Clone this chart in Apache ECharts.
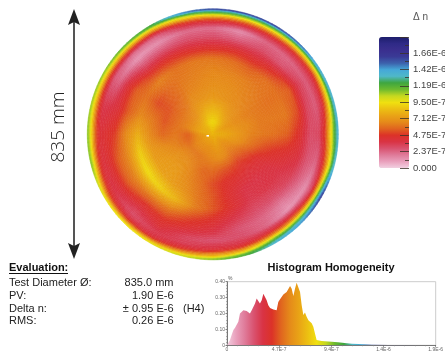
<!DOCTYPE html>
<html>
<head>
<meta charset="utf-8">
<style>html,body{margin:0;padding:0;background:#fff}#c{width:445px;height:353px}</style>
<script src="https://cdn.jsdelivr.net/npm/echarts@6/dist/echarts.min.js"></script>
</head>
<body>
<div id="c"></div>
<script>
// Colour scale, bottom (0) to top (1.9E-6), equal steps
var scaleColors = ['#f2cfe0','#e9a0bc','#df7a99','#d9526f','#d93344','#dc3228','#e0641f','#e58a1a','#e9a316','#ecc012','#f0e010','#c5d820','#6cba2f','#3fa63f','#4fb8c8','#45a8d8','#3c62ac','#3a3a96','#3a2f8e','#2f2a86','#1d1d6b'];
var scaleMax = 190; // in units of 1E-8
var scaleTickStep = 23.7;
var scaleTickLabels = ['0.000','2.37E-7','4.75E-7','7.12E-7','9.50E-7','1.19E-6','1.42E-6','1.66E-6'];

// Disk map: measured delta-n (units 1E-8) at relative radius / clockwise angle from north
var ringStops = [0,.1,.2,.3,.4,.5,.6,.7,.78,.85,.9,.93,.95,.97,.985,1];
var angleStops = [0,15,30,45,60,75,90,105,120,135,150,165,180,195,210,225,240,255,270,285,300,315,330,345];
var diskValues = [
 [82,92,82,72,68,66,62,44,30,22,42,62,92,118,132,165],
 [82,90,80,70,68,65,60,44,26,14,40,60,90,115,132,165],
 [82,84,74,68,66,64,56,42,30,24,40,60,88,115,132,165],
 [82,78,70,66,64,62,60,46,28,24,38,55,80,110,130,155],
 [82,74,68,64,62,60,60,56,36,26,36,50,75,105,128,140],
 [82,76,70,66,62,62,62,52,32,26,38,60,86,110,128,138],
 [82,78,72,65,62,60,56,44,30,32,52,82,100,120,128,138],
 [82,76,70,62,54,48,44,40,28,24,42,62,88,108,126,135],
 [82,72,64,54,44,40,38,34,24,14,32,60,95,125,145,165],
 [82,70,62,50,42,38,38,30,18,12,42,65,100,125,138,146],
 [82,72,66,52,44,38,36,30,24,24,42,62,95,118,130,138],
 [82,74,68,54,46,44,44,36,28,30,38,48,70,92,112,122],
 [82,72,66,58,52,54,54,44,38,28,38,44,62,80,100,114],
 [82,70,64,58,60,62,64,50,42,32,34,42,52,72,92,106],
 [82,70,62,64,66,70,82,60,48,42,36,38,42,60,82,102],
 [82,70,62,68,72,74,90,62,46,36,30,36,44,58,80,100],
 [82,70,62,68,72,74,94,66,55,42,38,42,48,62,82,102],
 [82,70,58,64,68,72,90,66,56,44,40,46,62,88,104,112],
 [82,72,56,62,58,66,80,66,50,44,42,52,68,92,104,112],
 [82,78,66,60,54,62,66,55,42,38,36,46,60,85,100,110],
 [82,78,66,60,54,52,60,56,42,24,26,42,58,85,102,112],
 [82,80,68,62,58,58,64,46,28,12,22,42,58,88,106,118],
 [82,84,74,68,64,62,60,46,28,14,24,42,62,92,112,125],
 [82,90,80,70,66,64,62,44,30,22,40,58,85,108,128,150]
];

// Histogram: bin position (units 1E-8) and share (%)
var histBins = [0,1.2,2.7,4.2,5.8,7.3,8.8,10.3,11.8,13.4,14.9,16.4,17.9,19.4,20.9,22.5,24,25.5,27,28.5,30,31.6,33.1,34.6,36.1,37.6,39.2,40.7,42.2,43.7,45.2,46.7,48.3,49.8,51.3,52.8,54.3,55.8,57.4,58.9,60.4,61.9,63.4,65,66.5,68,69.5,71,72.5,74.1,75.6,77.1,78.6,80.1,81.6,83.2,86.2,89.2,95.3,101,107,113.5,119.6,131.7,147,162,177,190];
var histShare = [0,.006,.033,.065,.096,.11,.121,.148,.2,.21,.221,.227,.215,.225,.2,.221,.231,.263,.294,.29,.263,.283,.325,.335,.283,.252,.235,.231,.225,.217,.221,.273,.29,.294,.319,.315,.335,.346,.373,.356,.31,.356,.394,.396,.335,.252,.19,.206,.179,.158,.148,.138,.117,.075,.033,.031,.027,.025,.023,.019,.015,.01,.008,.004,.002,.002,.001,0];
var histXLabels = ['0','4.7E-7','9.4E-7','1.4E-6','1.9E-6'];
var histYLabels = ['0','0.10','0.20','0.30','0.40'];

// Texts
var evalTitle = 'Evaluation:';
var evalNames = ['Test Diameter Ø:','PV:','Delta n:','RMS:'];
var evalValues = ['835.0 mm','1.90 E-6','± 0.95 E-6','0.26 E-6'];
var evalNote = '(H4)';
var histTitle = 'Histogram Homogeneity';
var diameterLabel = '835 mm';
var scaleTitle = 'Δ n';

var chart = echarts.init(document.getElementById('c'), null, {renderer:'canvas'});

var cells = [];
for (var j = 0; j < angleStops.length; j++) {
  for (var i = 0; i < ringStops.length - 1; i++) {
    cells.push([i, j, diskValues[j][i]]);
  }
}

function renderCell(params, api) {
  var i = api.value(0), j = api.value(1);
  var j2 = (j + 1) % angleStops.length;
  var r0 = ringStops[i], r1 = ringStops[i + 1];
  var a0 = angleStops[j];
  var nr = Math.ceil((r1 - r0) / 0.015), na = 8;
  var cx = params.coordSys.cx, cy = params.coordSys.cy;
  var children = [];
  for (var p = 0; p < nr; p++) {
    for (var q = 0; q < na; q++) {
      var fr = (p + .5) / nr, fa = (q + .5) / na;
      var v = (1 - fr) * ((1 - fa) * diskValues[j][i] + fa * diskValues[j2][i]) +
              fr * ((1 - fa) * diskValues[j][i + 1] + fa * diskValues[j2][i + 1]);
      var ra = r0 + (r1 - r0) * p / nr, rb = r0 + (r1 - r0) * (p + 1) / nr;
      var s = api.coord([r1, a0 + 15 * q / na]);
      var e = api.coord([r1, a0 + 15 * (q + 1) / na]);
      var inner = api.coord([ra, a0]), outer = api.coord([rb, a0]);
      var start = Math.atan2(s[1] - cy, s[0] - cx);
      var end = Math.atan2(e[1] - cy, e[0] - cx);
      if (end < start) end += Math.PI * 2;
      var col = echarts.color.lerp(v / scaleMax, scaleColors);
      children.push({
        type: 'sector',
        shape: {cx: cx, cy: cy,
          r0: Math.hypot(inner[0] - cx, inner[1] - cy),
          r: Math.hypot(outer[0] - cx, outer[1] - cy),
          startAngle: start, endAngle: end, clockwise: true},
        style: {fill: col, stroke: col, lineWidth: 0.6}
      });
    }
  }
  return {type: 'group', children: children, silent: true};
}

var SANS = '"Liberation Sans", Arial, sans-serif';
var graphics = [
  {type:'line', shape:{x1:74,y1:18,x2:74,y2:250}, style:{stroke:'#555',lineWidth:2}},
  {type:'polygon', shape:{points:[[74,9],[80,25],[74,22],[68,25]]}, style:{fill:'#222'}},
  {type:'polygon', shape:{points:[[74,259],[80,243],[74,246],[68,243]]}, style:{fill:'#222'}},
  {type:'text', x:59, y:127, rotation:Math.PI/2, style:{text:diameterLabel, fill:'#222', font:'300 19px "Open Sans", sans-serif', align:'center', verticalAlign:'middle'}},
  {type:'rect', shape:{x:206.5,y:135,width:2.5,height:1.6}, style:{fill:'#fff'}, z:20},
  {type:'text', x:413, y:17, style:{text:scaleTitle, fill:'#555', font:'10px '+SANS, verticalAlign:'middle'}},
  {type:'text', x:9, y:268, style:{text:evalTitle, fill:'#111', font:'bold 11px '+SANS, verticalAlign:'middle'}},
  {type:'line', shape:{x1:9,y1:273.5,x2:68,y2:273.5}, style:{stroke:'#111',lineWidth:1}},
  {type:'text', x:331, y:268, style:{text:histTitle, fill:'#111', font:'bold 11px '+SANS, align:'center', verticalAlign:'middle'}},
  {type:'text', x:228, y:278.5, style:{text:'%', fill:'#555', font:'5px '+SANS, verticalAlign:'middle'}},
  {type:'text', x:183, y:308.5, style:{text:evalNote, fill:'#222', font:'11px '+SANS, verticalAlign:'middle'}}
];
var rowY = [283, 296, 308.5, 321];
evalNames.forEach(function (t, k) {
  graphics.push({type:'text', x:9, y:rowY[k], style:{text:t, fill:'#222', font:'11px '+SANS, verticalAlign:'middle'}});
  graphics.push({type:'text', x:173.5, y:rowY[k], style:{text:evalValues[k], fill:'#222', font:'11px '+SANS, align:'right', verticalAlign:'middle'}});
});

var histStops = scaleColors.map(function (c, k) { return {offset: 0.86 * k / (scaleColors.length - 1), color: c}; });
histStops.push({offset: 1, color: scaleColors[scaleColors.length - 1]});
var histGradient = new echarts.graphic.LinearGradient(0, 0, 1, 0, histStops);

chart.setOption({
  animation: false,
  polar: {center: [212.8, 134.3], radius: 125.5},
  radiusAxis: {min: 0, max: 1, show: false},
  angleAxis: {min: 0, max: 360, startAngle: 90, clockwise: true, show: false},
  grid: [
    {left: 379, top: 37, width: 30, height: 131, show: false, outerBoundsMode: 'none'},
    {left: 227, top: 281.7, width: 208.7, height: 63.6, show: true, borderColor: '#ccc', borderWidth: 1, backgroundColor: '#fff', outerBoundsMode: 'none'}
  ],
  xAxis: [
    {gridIndex: 0, type: 'value', min: 0, max: 1, show: false},
    {gridIndex: 1, type: 'value', min: 0, max: scaleMax, interval: scaleMax / 4, splitLine: {show: false},
      axisLine: {lineStyle: {color: '#777', width: 1}},
      axisTick: {length: 1.5, lineStyle: {color: '#666', width: .8}},
      minorTick: {show: true, splitNumber: 5, length: 1, lineStyle: {color: '#888', width: .6}},
      axisLabel: {fontSize: 5, color: '#666', margin: 2, fontFamily: 'Liberation Sans',
        formatter: function (v) { return histXLabels[Math.round(v / (scaleMax / 4))]; }}}
  ],
  yAxis: [
    {gridIndex: 0, type: 'value', position: 'right', min: 0, max: 189, interval: scaleTickStep, z: 5,
      splitLine: {show: false}, axisLine: {show: false, onZero: false},
      axisTick: {inside: true, length: 9, lineStyle: {color: 'rgba(60,50,40,0.8)', width: 1}},
      minorTick: {show: true, splitNumber: 2, length: 4, lineStyle: {color: 'rgba(60,50,40,0.8)', width: 1}},
      axisLabel: {fontSize: 9.5, color: '#444', margin: 4, fontFamily: 'Liberation Sans', showMaxLabel: false,
        formatter: function (v) { return scaleTickLabels[Math.round(v / scaleTickStep)] || ''; }}},
    {gridIndex: 1, type: 'value', min: 0, max: 0.4, interval: 0.1, splitLine: {show: false},
      axisLine: {show: true, lineStyle: {color: '#777', width: 1}},
      axisTick: {show: true, length: 1.5, lineStyle: {color: '#666', width: .8}},
      minorTick: {show: true, splitNumber: 5, length: 1, lineStyle: {color: '#888', width: .6}},
      axisLabel: {fontSize: 5, color: '#666', margin: 2, fontFamily: 'Liberation Sans',
        formatter: function (v) { return histYLabels[Math.round(v / 0.1)]; }}}
  ],
  visualMap: {
    type: 'continuous', seriesIndex: 0, dimension: 2, min: 0, max: scaleMax,
    left: 379, top: 37, itemWidth: 30, itemHeight: 131, padding: 0,
    calculable: false, hoverLink: false, realtime: false, text: null, showLabel: false,
    inRange: {color: scaleColors}, z: 2
  },
  series: [
    {type: 'custom', coordinateSystem: 'polar', data: cells, renderItem: renderCell, silent: true, clip: false, animation: false, progressive: 0},
    {type: 'line', xAxisIndex: 1, yAxisIndex: 1, symbol: 'none', silent: true,
      data: histBins.map(function (b, k) { return [b, histShare[k]]; }),
      lineStyle: {width: 0}, areaStyle: {color: histGradient, opacity: 1}}
  ],
  graphic: {elements: graphics}
});
</script>
</body>
</html>
